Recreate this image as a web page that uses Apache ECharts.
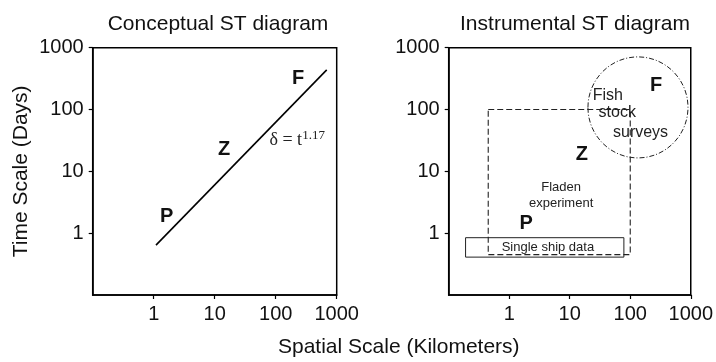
<!DOCTYPE html>
<html>
<head>
<meta charset="utf-8">
<script src="https://cdn.jsdelivr.net/npm/echarts@6/dist/echarts.min.js"></script>
<style>html,body{margin:0;padding:0;background:#fff}#c{width:716px;height:362px}</style>
</head>
<body>
<div id="c"></div>
<script>
// ---- data ----
var tickValues = [1, 10, 100, 1000];
var axisMin = 0.1, axisMax = 1000;
var titles = ['Conceptual ST diagram', 'Instrumental ST diagram'];
var yName = 'Time Scale (Days)';
var xName = 'Spatial Scale (Kilometers)';

// left panel
var scalingLine = [[1.09, 0.64], [686, 437]];
var leftLetters = [[1.63, 1.83, 'P'], [14.2, 23, 'Z'], [232, 313, 'F']];
var lawLabel = [[225, 33, 'δ = t', '1.17']];

// right panel
var rightLetters = [[1.9, 1.41, 'P'], [15.9, 19, 'Z'], [267, 241, 'F']];
var fladenBox = [[0.45, 100], [100, 100], [100, 0.45], [0.45, 0.45], [0.45, 100]];
var shipBox = [[0.19, 0.845], [78.5, 0.845], [78.5, 0.41], [0.19, 0.41], [0.19, 0.845]];
var fishEllipse = [[20, 16.5, 900, 710]]; // xMin, yMin, xMax, yMax
var rightTexts = [
  [42.5, 166, 'Fish', 16],
  [61, 88, 'stock', 16],
  [148, 41.8, 'surveys', 16],
  [7.2, 5.45, 'Fladen', 13],
  [7.2, 3.0, 'experiment', 13],
  [4.36, 0.58, 'Single ship data', 13]
];

// ---- chart ----
var FONT = '"Liberation Sans", Arial, Helvetica, sans-serif';
var SERIF = '"Liberation Serif", "DejaVu Serif", serif';
var TXT = '#111';
var chart = echarts.init(document.getElementById('c'), null, {renderer: 'canvas'});

function baseAx(i) {
  return {
    type: 'log', gridIndex: i, min: axisMin, max: axisMax, logBase: 10,
    axisLine: {show: true, onZero: false, lineStyle: {color: '#000', width: 1.5}},
    axisTick: {show: true, inside: false, length: 4, customValues: tickValues, lineStyle: {color: '#000', width: 1.2}},
    axisLabel: {show: true, customValues: tickValues, margin: 9, color: TXT, fontSize: 20, fontFamily: FONT,
      formatter: function (v) { return v < 0.5 ? '' : String(Math.round(v)); }},
    splitLine: {show: false}, minorTick: {show: false}
  };
}
var xAxes = [baseAx(0), baseAx(1)];
var yAxes = [baseAx(0), baseAx(1)];
yAxes[0].name = yName;
yAxes[0].nameLocation = 'middle';
yAxes[0].nameGap = 61;
yAxes[0].nameTextStyle = {color: TXT, fontSize: 21, fontFamily: FONT};

function textScatter(data, xi, size, weight) {
  return {
    type: 'scatter', xAxisIndex: xi, yAxisIndex: xi, symbolSize: 0, silent: true,
    itemStyle: {opacity: 1},
    data: data.map(function (d) { return {value: [d[0], d[1]], name: d[2]}; }),
    label: {show: true, position: 'inside', color: TXT, opacity: 1, fontFamily: FONT, fontWeight: weight || 'normal',
      fontSize: size, formatter: function (p) { return p.name; }}
  };
}

var rightTextSeries = rightTexts.map(function (d) {
  return {
    type: 'scatter', xAxisIndex: 1, yAxisIndex: 1, symbolSize: 0, silent: true,
    itemStyle: {opacity: 1},
    data: [{value: [d[0], d[1]], name: d[2]}],
    label: {show: true, position: 'inside', color: '#222', opacity: 1, fontFamily: FONT, fontSize: d[3],
      formatter: function (p) { return p.name; }}
  };
});

var option = {
  animation: false,
  backgroundColor: '#fff',
  title: [
    {text: titles[0], left: 213, top: 9, textAlign: 'center', textStyle: {color: TXT, fontSize: 21, fontWeight: 'normal', fontFamily: FONT}},
    {text: titles[1], left: 570, top: 9, textAlign: 'center', textStyle: {color: TXT, fontSize: 21, fontWeight: 'normal', fontFamily: FONT}}
  ],
  grid: [
    {left: 92.7, top: 47.7, width: 244, height: 247.3, show: true, borderColor: '#000', borderWidth: 1.5, backgroundColor: 'transparent'},
    {left: 448.7, top: 47.7, width: 244.6, height: 247.3, show: true, borderColor: '#000', borderWidth: 1.5, backgroundColor: 'transparent'}
  ],
  xAxis: xAxes,
  yAxis: yAxes,
  graphic: [
    {type: 'text', left: 278, top: 337, style: {text: xName, fill: TXT, font: '21px ' + FONT}}
  ],
  series: [
    {type: 'line', xAxisIndex: 0, yAxisIndex: 0, data: scalingLine, symbol: 'none', silent: true,
      lineStyle: {color: '#000', width: 1.6}},
    textScatter(leftLetters, 0, 20, 'bold'),
    {
      type: 'scatter', xAxisIndex: 0, yAxisIndex: 0, symbolSize: 0, silent: true, itemStyle: {opacity: 1},
      data: lawLabel.map(function (d) { return {value: [d[0], d[1]], name: d[2], sup: d[3]}; }),
      label: {show: true, position: 'inside', opacity: 1, formatter: function (p) { return '{a|' + p.name + '}{b|' + p.data.sup + '}'; },
        rich: {
          a: {fontFamily: SERIF, fontSize: 18, color: '#222', verticalAlign: 'bottom', lineHeight: 20},
          b: {fontFamily: SERIF, fontSize: 13, color: '#222', verticalAlign: 'top', lineHeight: 20, padding: [0, 0, 7, 0]}
        }}
    },
    {type: 'line', xAxisIndex: 1, yAxisIndex: 1, data: fladenBox, symbol: 'none', silent: true,
      lineStyle: {color: '#222', width: 1.1, type: [6, 3]}},
    {type: 'line', xAxisIndex: 1, yAxisIndex: 1, data: shipBox, symbol: 'none', silent: true,
      lineStyle: {color: '#222', width: 1}},
    {
      type: 'custom', xAxisIndex: 1, yAxisIndex: 1, silent: true, data: fishEllipse,
      renderItem: function (params, api) {
        var p1 = api.coord([api.value(0), api.value(1)]);
        var p2 = api.coord([api.value(2), api.value(3)]);
        return {
          type: 'ellipse',
          shape: {cx: (p1[0] + p2[0]) / 2, cy: (p1[1] + p2[1]) / 2, rx: Math.abs(p2[0] - p1[0]) / 2, ry: Math.abs(p2[1] - p1[1]) / 2},
          style: {fill: null, stroke: '#222', lineWidth: 1, lineDash: [5, 2, 1, 2]}
        };
      }
    },
    textScatter(rightLetters, 1, 20, 'bold')
  ].concat(rightTextSeries)
};
chart.setOption(option);
</script>
</body>
</html>
